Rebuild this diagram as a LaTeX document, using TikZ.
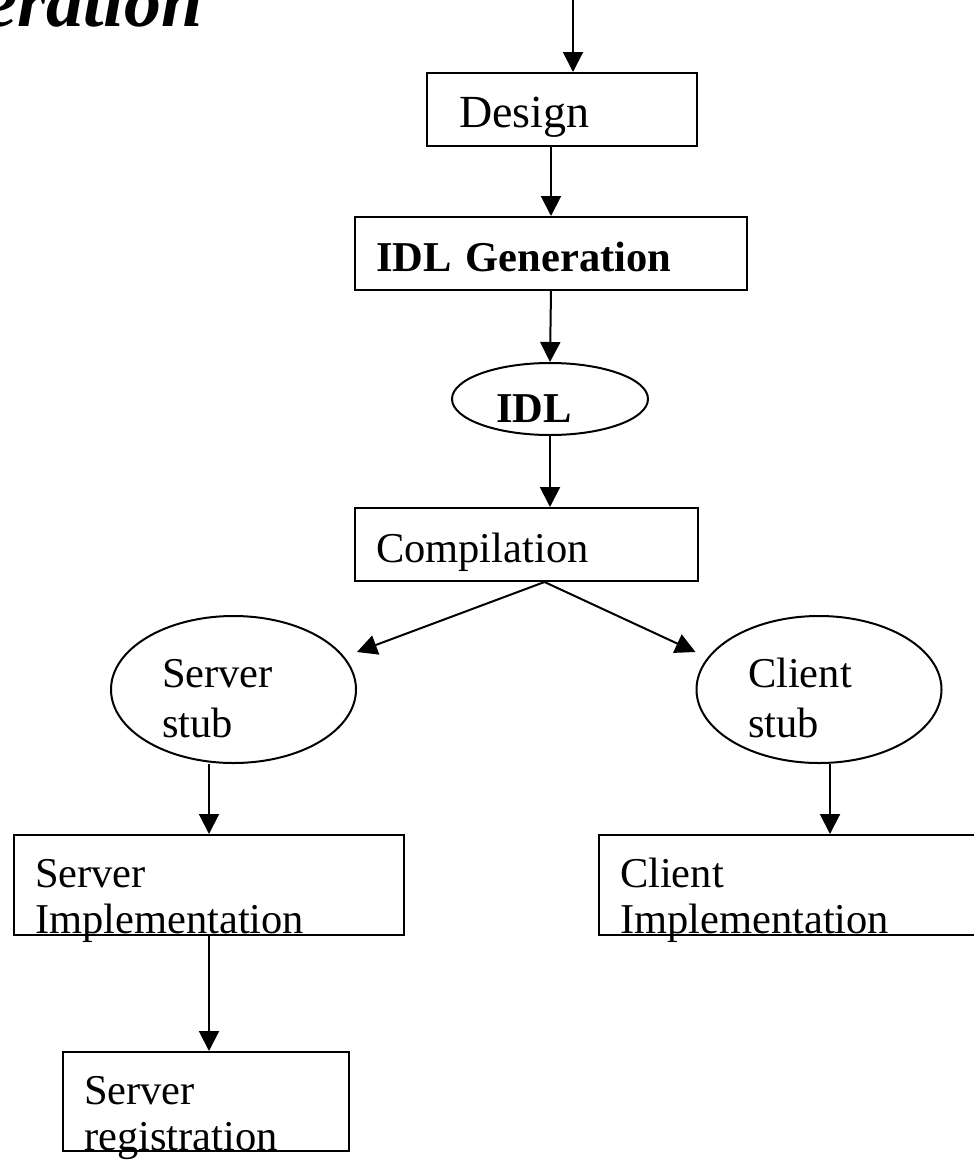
\documentclass[tikz,border=0pt]{standalone}
\usepackage{fontspec}
\setmainfont{Liberation Serif}
\usepackage{tikz}
\usetikzlibrary{shapes,arrows.meta,positioning,shapes.geometric}

\tikzstyle{box} = [
    rectangle,
    draw,
    line width=1pt,
    anchor=north west,
    inner xsep=10.5pt,
    inner ysep=0pt,
    align=left,
    text height=27pt,
    text depth=9.5pt,
    font=\fontsize{21.25}{23}\selectfont
]
\tikzstyle{tallbox} = [
    box,
    text height=26pt,
    text depth=24pt
]
\tikzstyle{oval} = [
    ellipse,
    draw,
    line width=1pt,
    inner sep=0pt,
    align=left,
    font=\fontsize{21.25}{23}\selectfont
]
\tikzstyle{stub} = [
    oval,
    text height=20pt,
    text depth=22.5pt,
    minimum width=122.5pt,
    minimum height=73.5pt,
    font=\fontsize{21.25}{25}\selectfont
]
\tikzstyle{arrow} = [
    line width=1pt,
    -{Triangle[length=10pt,width=10pt]}
]

\begin{document}
\begin{tikzpicture}[x=0.5pt, y=-0.5pt]
    \useasboundingbox (0,0) rectangle (974,1162);
    \clip (0,0) rectangle (974,1162);

    % title, cut by the page edge
    \node[anchor=base west, inner sep=0pt, font=\fontsize{37}{40}\selectfont\bfseries\itshape] (title) at (-16,26) {eration};

    % main chain
    \coordinate (in) at (573,0);
    \node[box, inner xsep=16pt, text width=103pt, font=\fontsize{23}{25}\selectfont] (design) at (426,72) {Design};
    \node[box, text width=175pt] (idlgen) at (354,216) {\textbf{IDL Generation}};
    \node[oval, text width=54pt, text height=23pt, text depth=0pt,
          minimum width=98pt, minimum height=36pt] (idl) at (550,399) {\textbf{IDL}};
    \node[box, text width=150.5pt] (comp) at (354,507) {Compilation};

    % stubs
    \node[stub, text width=71.5pt] (sstub) at (233.5,689.5) {Server\\stub};
    \node[stub, text width=71pt] (cstub) at (819,689.5) {Client\\stub};

    % implementations
    \node[tallbox, text width=174pt] (simpl) at (13,834) {Server\\Implementation};
    \node[tallbox, text width=210pt] (cimpl) at (598,834) {Client\\Implementation};
    \node[tallbox, text width=122pt, text depth=23.5pt] (sreg) at (62,1051) {Server\\registration};

    \draw[arrow] (in) -- (in |- design.north);
    \draw[arrow] (design.south -| idlgen.north) -- (idlgen.north);
    \draw[arrow] (idlgen.south) -- (idl.north);
    \draw[arrow] (idl.south) -- (idl.south |- comp.north);
    \draw[arrow] ([xshift=9pt]comp.south) -- ([yshift=18.75pt]sstub.east);
    \draw[arrow] ([xshift=9pt]comp.south) -- ([yshift=18.75pt]cstub.west);
    \draw[arrow] (sstub.south -| simpl.north) -- (simpl.north);
    \draw[arrow] (cstub.south -| cimpl.north) -- (cimpl.north);
    \draw[arrow] (simpl.south) -- (simpl.south |- sreg.north);
\end{tikzpicture}
\end{document}
